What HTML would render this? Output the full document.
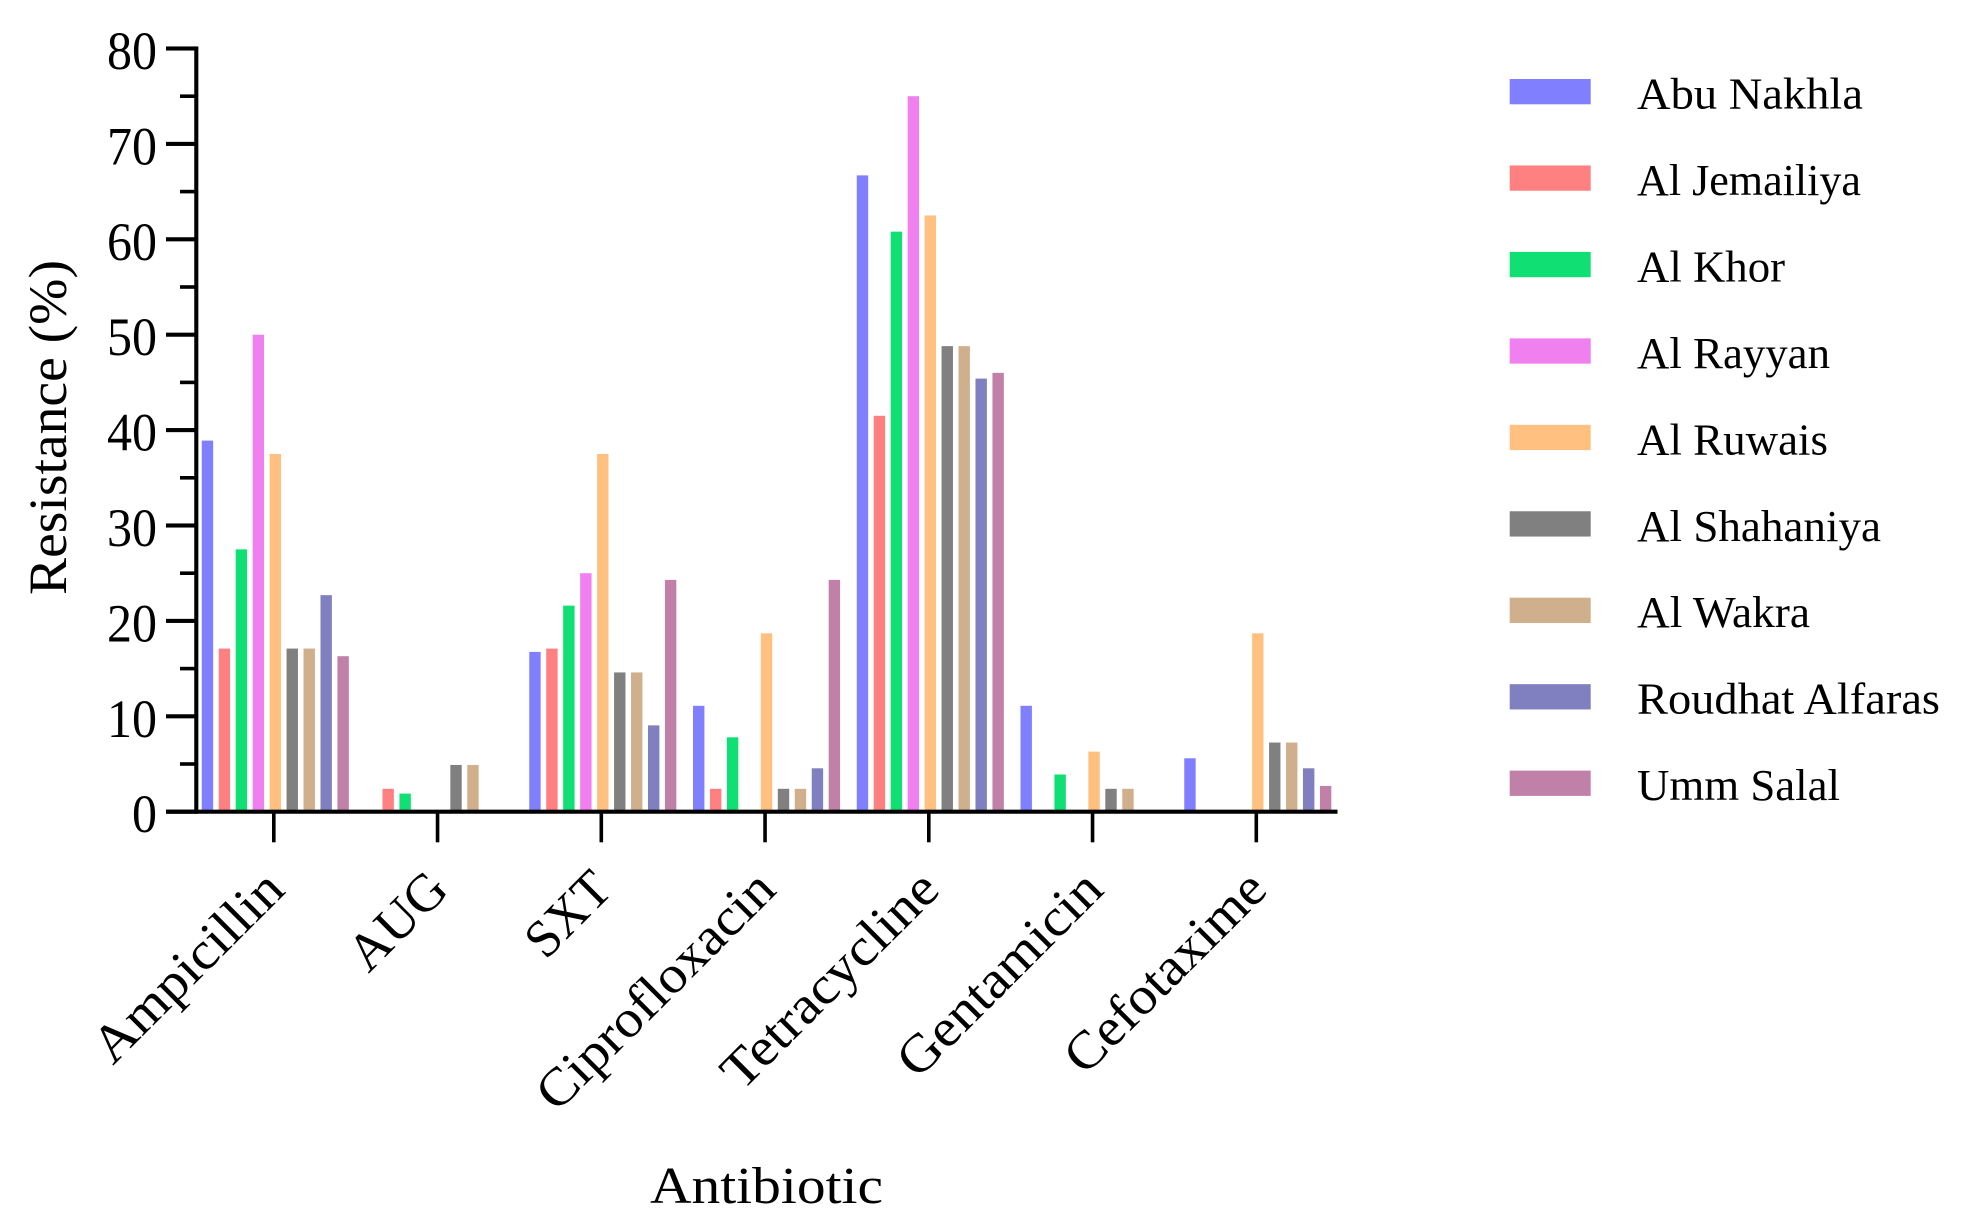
<!DOCTYPE html>
<html lang="en">
<head>
<meta charset="utf-8">
<title>Antibiotic resistance by municipality</title>
<style>
  html, body { margin: 0; padding: 0; background: #ffffff; }
  body { width: 1968px; height: 1230px; overflow: hidden; }
  svg { display: block; }
  text { font-family: "Liberation Serif", "DejaVu Serif", serif; fill: #000000; }
</style>
</head>
<body>
<svg id="chart" xmlns="http://www.w3.org/2000/svg" width="1968" height="1230" viewBox="0 0 1968 1230">
  <rect x="0" y="0" width="1968" height="1230" fill="#ffffff"/>
  <g id="bars"></g>
  <g id="axes"></g>
  <g id="legend"></g>
  <text transform="translate(66 595) rotate(-90)" font-size="54" textLength="335" lengthAdjust="spacingAndGlyphs">Resistance (%)</text>
  <text x="650" y="1203" font-size="52" textLength="233" lengthAdjust="spacingAndGlyphs">Antibiotic</text>
</svg>
<script>
const categories = ["Ampicillin", "AUG", "SXT", "Ciprofloxacin", "Tetracycline", "Gentamicin", "Cefotaxime"];
const seriesNames = ["Abu Nakhla", "Al Jemailiya", "Al Khor", "Al Rayyan", "Al Ruwais", "Al Shahaniya", "Al Wakra", "Roudhat Alfaras", "Umm Salal"];
const yTickLabels = [0, 10, 20, 30, 40, 50, 60, 70, 80];
const yMinorTicks = [5, 15, 25, 35, 45, 55, 65, 75];

const abuNakhla = [38.9, 0, 16.75, 11.1, 66.7, 11.1, 5.6];
const alJemailiya = [17.1, 2.4, 17.1, 2.4, 41.5, 0, 0];
const alKhor = [27.5, 1.9, 21.6, 7.8, 60.8, 3.9, 0];
const alRayyan = [50, 0, 25, 0, 75, 0, 0];
const alRuwais = [37.5, 0, 37.5, 18.7, 62.5, 6.3, 18.7];
const alShahaniya = [17.1, 4.9, 14.6, 2.4, 48.8, 2.4, 7.25];
const alWakra = [17.1, 4.9, 14.6, 2.4, 48.8, 2.4, 7.25];
const roudhatAlfaras = [22.7, 0, 9.05, 4.55, 45.4, 0, 4.55];
const ummSalal = [16.3, 0, 24.3, 24.3, 46, 0, 2.7];
const allSeries = [abuNakhla, alJemailiya, alKhor, alRayyan, alRuwais, alShahaniya, alWakra, roudhatAlfaras, ummSalal];

const seriesColors = ["#8080ff", "#ff8080", "#10e074", "#f080f0", "#ffc080", "#808080", "#d0b08c", "#8080c0", "#c080a8"];
const categoryLabelFit = { "Ampicillin": 246, "AUG": 116, "SXT": 97, "Ciprofloxacin": 313, "Tetracycline": 283, "Gentamicin": 266, "Cefotaxime": 261 };
const legendLabelFit = { "Abu Nakhla": 226, "Al Jemailiya": 224, "Al Khor": 148, "Al Rayyan": 193, "Al Ruwais": 191, "Al Shahaniya": 244, "Al Wakra": 173, "Roudhat Alfaras": 303, "Umm Salal": 203 };

const SVG_NS = "http://www.w3.org/2000/svg";
const Y_ZERO = 811.7;
const Y_PER_UNIT = 9.54;
const FIRST_CATEGORY_X = 273.8;
const CATEGORY_STEP = 163.75;
const BAR_STEP = 16.96;
const BAR_WIDTH = 11.4;
const BAR_OFFSET = 1.5;
const AXIS_LEFT = 196.3;
const AXIS_WIDTH = 4.1;
const DIGIT_WIDTH = 25;

function yScale(value) {
  return Y_ZERO - value * Y_PER_UNIT;
}
function categoryX(categoryIndex) {
  return FIRST_CATEGORY_X + categoryIndex * CATEGORY_STEP;
}
function barCenterX(categoryIndex, seriesIndex) {
  const middle = (allSeries.length - 1) / 2;
  return categoryX(categoryIndex) + BAR_OFFSET + (seriesIndex - middle) * BAR_STEP;
}
function svgEl(tag, attrs, parent) {
  const el = document.createElementNS(SVG_NS, tag);
  for (const key in attrs) {
    el.setAttribute(key, attrs[key]);
  }
  parent.appendChild(el);
  return el;
}

const barsGroup = document.getElementById("bars");
const axesGroup = document.getElementById("axes");
const legendGroup = document.getElementById("legend");

allSeries.forEach(function (values, seriesIndex) {
  values.forEach(function (value, categoryIndex) {
    if (value <= 0) return;
    const bar = svgEl("rect", {
      x: barCenterX(categoryIndex, seriesIndex) - BAR_WIDTH / 2,
      y: yScale(value),
      width: BAR_WIDTH,
      height: Y_ZERO - yScale(value),
      fill: seriesColors[seriesIndex]
    }, barsGroup);
    
    
  });
});

const yAxisLine = svgEl("rect", { x: AXIS_LEFT - AXIS_WIDTH / 2, y: yScale(80) - AXIS_WIDTH / 2, width: AXIS_WIDTH, height: yScale(0) - yScale(80) + AXIS_WIDTH, fill: "#000" }, axesGroup);



const xAxisLine = svgEl("rect", { x: 166, y: Y_ZERO - AXIS_WIDTH / 2, width: 1171.5, height: AXIS_WIDTH, fill: "#000" }, axesGroup);



yTickLabels.forEach(function (value) {
  const tick = svgEl("rect", { x: 166, y: yScale(value) - AXIS_WIDTH / 2, width: AXIS_LEFT - 166, height: AXIS_WIDTH, fill: "#000" }, axesGroup);
  
  
  const text = String(value);
  const label = svgEl("text", { x: 157, y: yScale(value) + 20.5, "font-size": 54.5, "text-anchor": "end", textLength: text.length * DIGIT_WIDTH, lengthAdjust: "spacingAndGlyphs" }, axesGroup);
  label.textContent = text;
  
  
});

yMinorTicks.forEach(function (value) {
  const tick = svgEl("rect", { x: 180, y: yScale(value) - 1.8, width: AXIS_LEFT - 180, height: 3.6, fill: "#000" }, axesGroup);
  
  
});

categories.forEach(function (name, categoryIndex) {
  const x = categoryX(categoryIndex);
  const tick = svgEl("rect", { x: x - 1.8, y: Y_ZERO, width: 3.6, height: 30.6, fill: "#000" }, axesGroup);
  
  
  const label = svgEl("text", {
    transform: "translate(" + (x + 13) + " 892) rotate(-45)",
    "font-size": 53,
    "text-anchor": "end"
  }, axesGroup);
  if (categoryLabelFit[name]) {
    label.setAttribute("textLength", categoryLabelFit[name]);
    label.setAttribute("lengthAdjust", "spacingAndGlyphs");
  }
  label.textContent = name;
  
  
});

seriesNames.forEach(function (name, seriesIndex) {
  const top = 79 + seriesIndex * 86.45;
  const swatch = svgEl("rect", { x: 1509.7, y: top, width: 81, height: 25.3, fill: seriesColors[seriesIndex] }, legendGroup);
  
  
  const label = svgEl("text", { x: 1637, y: top + 29.5, "font-size": 44 }, legendGroup);
  if (legendLabelFit[name]) {
    label.setAttribute("textLength", legendLabelFit[name]);
    label.setAttribute("lengthAdjust", "spacingAndGlyphs");
  }
  label.textContent = name;
  
  
});
</script>
</body>
</html>
